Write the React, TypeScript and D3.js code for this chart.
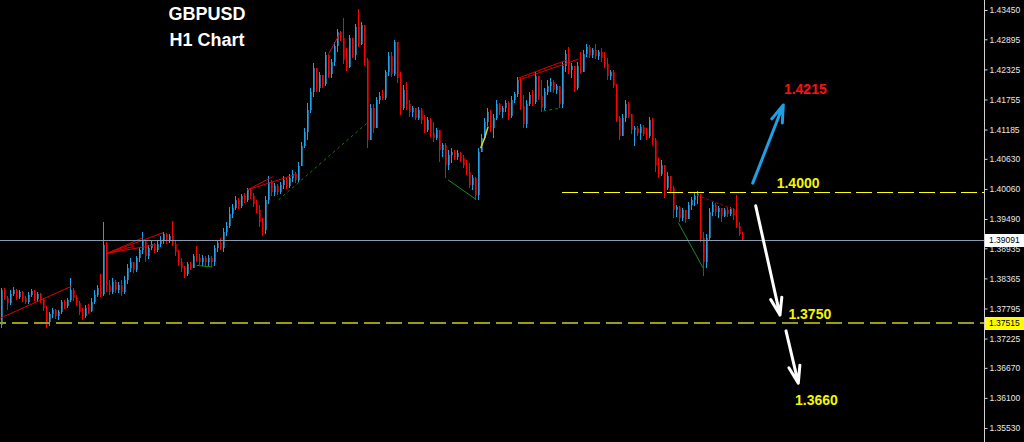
import { useEffect, useRef } from 'react';
import * as d3 from 'd3';

// GBPUSD H1 candles (open of each bar = previous close)
const firstOpen = 1.3748;
const closes = [
  1.3814, 1.3799, 1.379, 1.3807, 1.3814, 1.3801, 1.3811, 1.3799, 1.3792, 1.3805,
  1.3813, 1.3797, 1.3807, 1.3796, 1.378, 1.3754, 1.3769, 1.3777, 1.3765, 1.3773,
  1.3792, 1.3784, 1.3796, 1.3814, 1.3799, 1.379, 1.3773, 1.3765, 1.378, 1.3775,
  1.3792, 1.3805, 1.3818, 1.3807, 1.39, 1.3824, 1.3811, 1.383, 1.3814, 1.3824,
  1.3811, 1.3833, 1.3856, 1.3867, 1.3852, 1.3875, 1.389, 1.3909, 1.3879, 1.3894,
  1.3902, 1.389, 1.3902, 1.3909, 1.3921, 1.3909, 1.3917, 1.3902, 1.3886, 1.3867,
  1.3856, 1.3845, 1.3864, 1.3856, 1.3879, 1.3875, 1.3867, 1.3875, 1.3867, 1.3875,
  1.3867, 1.3894, 1.3903, 1.3894, 1.3924, 1.3936, 1.3958, 1.397, 1.3985, 1.3974,
  1.3993, 1.3985, 1.4004, 1.3993, 1.3977, 1.3966, 1.3943, 1.3928, 1.3985, 1.4019,
  1.4, 1.4011, 1.4, 1.4013, 1.4023, 1.4011, 1.4027, 1.4034, 1.4023, 1.4049,
  1.4087, 1.4114, 1.4156, 1.419, 1.4235, 1.4197, 1.4222, 1.4205, 1.426, 1.4224,
  1.4247, 1.4277, 1.4303, 1.4292, 1.425, 1.4237, 1.4292, 1.426, 1.4313, 1.4281,
  1.4317, 1.425, 1.4099, 1.4159, 1.4121, 1.4175, 1.4182, 1.4178, 1.4228, 1.4258,
  1.4224, 1.4284, 1.4216, 1.4159, 1.4193, 1.4167, 1.4152, 1.4159, 1.414, 1.4156,
  1.4137, 1.4118, 1.4137, 1.4112, 1.4102, 1.4118, 1.408, 1.4089, 1.4051, 1.407,
  1.4076, 1.4067, 1.4074, 1.4065, 1.4051, 1.4038, 1.4013, 1.4027, 1.3994, 1.4076,
  1.4102, 1.4133, 1.4152, 1.4121, 1.414, 1.4167, 1.4152, 1.4159, 1.4169, 1.4144,
  1.4175, 1.4186, 1.4212, 1.4163, 1.4129, 1.4167, 1.4184, 1.4171, 1.422, 1.4182,
  1.4159, 1.419, 1.4201, 1.4209, 1.4193, 1.4201, 1.4167, 1.4239, 1.4262, 1.4231,
  1.4239, 1.4197, 1.4239, 1.4228, 1.4262, 1.4275, 1.426, 1.4269, 1.4258, 1.4266,
  1.4254, 1.4243, 1.422, 1.4228, 1.4203, 1.414, 1.4106, 1.414, 1.4167, 1.4148,
  1.4118, 1.4121, 1.4112, 1.4123, 1.411, 1.4106, 1.4137, 1.4099, 1.4051, 1.4034,
  1.4051, 1.4008, 1.4031, 1.4008, 1.3966, 1.3972, 1.3951, 1.3966, 1.3949, 1.3975,
  1.3985, 1.3993, 1.3996, 1.3913, 1.3867, 1.3913, 1.3962, 1.3975, 1.3962, 1.397,
  1.3955, 1.3966, 1.3958, 1.3968, 1.3956, 1.3936, 1.3921, 1.3909,
];
const highs = [
  1.3818, 1.3818, 1.3803, 1.3814, 1.382, 1.3816, 1.3814, 1.3813, 1.3803, 1.3811,
  1.3816, 1.3814, 1.3811, 1.3809, 1.3799, 1.3784, 1.3773, 1.378, 1.3778, 1.3777,
  1.3796, 1.3796, 1.3799, 1.3837, 1.3818, 1.3805, 1.3794, 1.378, 1.3786, 1.3788,
  1.3799, 1.3814, 1.3824, 1.3845, 1.3943, 1.3905, 1.3833, 1.3837, 1.3833, 1.383,
  1.3833, 1.3841, 1.3864, 1.3875, 1.3867, 1.3879, 1.3896, 1.3924, 1.3909, 1.39,
  1.3909, 1.3903, 1.3907, 1.3917, 1.3924, 1.3922, 1.3921, 1.3945, 1.3909, 1.389,
  1.3875, 1.386, 1.3867, 1.3867, 1.3883, 1.3898, 1.3883, 1.3881, 1.3879, 1.3881,
  1.3879, 1.39, 1.3909, 1.3913, 1.3932, 1.3943, 1.3972, 1.3977, 1.3993, 1.3989,
  1.3996, 1.3998, 1.4008, 1.4006, 1.3998, 1.3985, 1.3975, 1.3951, 1.3993, 1.4031,
  1.4023, 1.4017, 1.4015, 1.4019, 1.4031, 1.4027, 1.4034, 1.4042, 1.4038, 1.4057,
  1.4095, 1.4121, 1.4169, 1.4197, 1.4245, 1.4231, 1.4228, 1.422, 1.4266, 1.426,
  1.4252, 1.4284, 1.4309, 1.4305, 1.433, 1.4273, 1.4298, 1.4288, 1.4319, 1.4347,
  1.4322, 1.4303, 1.4254, 1.4167, 1.4167, 1.418, 1.419, 1.4193, 1.4231, 1.4266,
  1.4266, 1.4288, 1.4258, 1.4228, 1.4203, 1.4209, 1.4175, 1.4163, 1.4159, 1.4161,
  1.4159, 1.4146, 1.4142, 1.414, 1.4133, 1.4121, 1.4114, 1.4093, 1.4093, 1.408,
  1.4084, 1.408, 1.408, 1.4076, 1.407, 1.4061, 1.4055, 1.4032, 1.4029, 1.4084,
  1.411, 1.414, 1.4159, 1.4156, 1.4148, 1.4175, 1.4169, 1.4163, 1.4175, 1.4173,
  1.4182, 1.419, 1.4218, 1.4216, 1.4184, 1.4175, 1.419, 1.4193, 1.4228, 1.4212,
  1.4212, 1.4197, 1.4212, 1.4216, 1.4212, 1.4205, 1.4201, 1.4247, 1.4269, 1.4275,
  1.4245, 1.4235, 1.4247, 1.4266, 1.4269, 1.4281, 1.4279, 1.4273, 1.4281, 1.4269,
  1.4273, 1.4266, 1.4254, 1.4231, 1.4231, 1.4205, 1.4144, 1.4148, 1.4175, 1.4171,
  1.4148, 1.4125, 1.4125, 1.4129, 1.4127, 1.4121, 1.4142, 1.414, 1.4102, 1.4065,
  1.4061, 1.4051, 1.4038, 1.4031, 1.4011, 1.3975, 1.3974, 1.397, 1.3966, 1.3981,
  1.3991, 1.3998, 1.4002, 1.3994, 1.3924, 1.3921, 1.397, 1.3981, 1.3979, 1.3974,
  1.397, 1.397, 1.3972, 1.3972, 1.397, 1.3994, 1.3943, 1.3924,
];
const lows = [
  1.3742, 1.3796, 1.3777, 1.3786, 1.3803, 1.3796, 1.3797, 1.3792, 1.3788, 1.3788,
  1.3801, 1.3794, 1.3792, 1.379, 1.3775, 1.3742, 1.3746, 1.3761, 1.376, 1.3758,
  1.3769, 1.3778, 1.378, 1.3792, 1.3794, 1.3784, 1.3767, 1.3758, 1.3761, 1.3769,
  1.3773, 1.3788, 1.3801, 1.3801, 1.3803, 1.3811, 1.3805, 1.3807, 1.3809, 1.3809,
  1.3803, 1.3807, 1.3826, 1.3849, 1.3847, 1.3849, 1.3867, 1.3883, 1.3867, 1.3873,
  1.389, 1.3885, 1.3886, 1.3896, 1.3902, 1.3902, 1.3903, 1.3898, 1.3879, 1.386,
  1.3849, 1.3837, 1.3841, 1.3852, 1.3856, 1.3867, 1.3862, 1.386, 1.386, 1.386,
  1.3858, 1.386, 1.3886, 1.389, 1.3886, 1.3917, 1.3932, 1.3951, 1.3966, 1.3968,
  1.397, 1.3979, 1.3981, 1.3987, 1.3972, 1.396, 1.3934, 1.3917, 1.3921, 1.3977,
  1.3993, 1.3993, 1.3994, 1.3996, 1.4006, 1.4006, 1.4008, 1.4019, 1.4017, 1.4019,
  1.4049, 1.4084, 1.4099, 1.415, 1.418, 1.419, 1.419, 1.4197, 1.4201, 1.4216,
  1.4216, 1.4239, 1.4266, 1.4286, 1.4243, 1.423, 1.4235, 1.4254, 1.425, 1.4275,
  1.4279, 1.4239, 1.4084, 1.4118, 1.4112, 1.4121, 1.4167, 1.4175, 1.4175, 1.422,
  1.4218, 1.422, 1.4207, 1.4146, 1.4156, 1.4156, 1.4142, 1.4142, 1.4137, 1.4137,
  1.4129, 1.4112, 1.4114, 1.4104, 1.4095, 1.4099, 1.4057, 1.4067, 1.4027, 1.4042,
  1.4055, 1.4061, 1.4061, 1.4057, 1.4046, 1.4032, 1.4008, 1.4004, 1.3985, 1.3985,
  1.4076, 1.4099, 1.4125, 1.4114, 1.4102, 1.4137, 1.4146, 1.414, 1.4152, 1.4137,
  1.414, 1.4169, 1.418, 1.4156, 1.4121, 1.4121, 1.4163, 1.4163, 1.4167, 1.4175,
  1.4152, 1.4156, 1.4184, 1.419, 1.4188, 1.4186, 1.4159, 1.4159, 1.4228, 1.4224,
  1.4216, 1.419, 1.4193, 1.4224, 1.4228, 1.4256, 1.4254, 1.4254, 1.4252, 1.425,
  1.4247, 1.4235, 1.4212, 1.4212, 1.4197, 1.4133, 1.4099, 1.4108, 1.4133, 1.414,
  1.411, 1.4087, 1.4106, 1.4099, 1.4106, 1.4099, 1.4102, 1.4089, 1.4038, 1.4027,
  1.4031, 1.3989, 1.4004, 1.4, 1.3951, 1.3953, 1.3943, 1.3945, 1.3941, 1.3949,
  1.3966, 1.3974, 1.3977, 1.3905, 1.3841, 1.3856, 1.3909, 1.3955, 1.3955, 1.3951,
  1.3943, 1.3953, 1.3953, 1.3955, 1.3947, 1.3932, 1.3917, 1.3907,
];

const axisTicks = [
  1.4345, 1.42895, 1.42325, 1.41755, 1.41185, 1.4063, 1.4006, 1.3949,
  1.38935, 1.38365, 1.37795, 1.37225, 1.3667, 1.361, 1.3553,
];
const currentPrice = 1.39091;
const supportPrice = 1.37515;
const resistancePrice = 1.4;
const resistanceStart = 186.8; // bar index where the 1.4000 line starts

// drawn studies: [bar index, price]
const redPatternLines = [
  [[-0.5, 1.3761], [23.5, 1.3822]],
  [[35.3, 1.3884], [47.3, 1.3914]],
  [[35.3, 1.3884], [53.9, 1.3923]],
  [[35.3, 1.3884], [51.2, 1.39]],
  [[35.3, 1.3884], [44.0, 1.3897]],
  [[81.9, 1.4004], [90.4, 1.4029]],
  [[81.9, 1.4004], [98.4, 1.4034]],
  [[108.9, 1.426], [112.8, 1.4301]],
  [[172.3, 1.4216], [188.4, 1.425]],
  [[172.3, 1.4212], [192.3, 1.4252]],
];
const redDashedLine = [[231.9, 1.3994], [242.3, 1.3971], [244.5, 1.3966]];
const greenLines = [
  [[225.6, 1.3942], [233.9, 1.3856]],
  [[148.9, 1.4023], [158.2, 1.3986]],
  [[65.1, 1.3861], [70.3, 1.3858]],
];
const greenDashedLines = [
  [[92.3, 1.3985], [121.7, 1.413]],
  [[180.6, 1.4154], [186.7, 1.4159]],
];
const yellowPatternLine = [[159.7, 1.4083], [161.2, 1.4105], [162.2, 1.4124]];

const arrows = [
  { from: [250.4, 1.4017], to: [260.6, 1.4165], color: '#1e9fe6' },
  { from: [251.4, 1.3974], to: [259.5, 1.3767], color: '#ffffff' },
  { from: [261.5, 1.3737], to: [265.6, 1.3638], color: '#ffffff' },
];
const targetLabels = [
  { text: '1.4215', at: [260.8, 1.4185], color: '#ff1010' },
  { text: '1.4000', at: [258.4, 1.4007], color: '#f5f500' },
  { text: '1.3750', at: [262.3, 1.3759], color: '#f5f500' },
  { text: '1.3660', at: [264.5, 1.3597], color: '#f5f500' },
];

const WIDTH = 1024;
const HEIGHT = 442;
const plotRight = 984;
const bullWick = '#1ea2ea';
const bullBody = '#1d6c96';
const bearWick = '#ff0000';
const bearBody = '#a00000';
const font = "'Liberation Sans', Arial, sans-serif";

const App = () => {
  const svgRef = useRef<SVGSVGElement>(null!);

  useEffect(() => {
    document.body.style.margin = '0';
    document.body.style.background = '#000';
    const svg = d3.select(svgRef.current);
    svg.selectAll('*').remove();

    const n = closes.length;
    const x = d3.scaleLinear().domain([0, n - 1]).range([1.5, 1.5 + 3 * (n - 1)]);
    const y = d3.scaleLinear().domain([1.3553, 1.4345]).range([428, 10]);

    svg.append('rect').attr('width', WIDTH).attr('height', HEIGHT).attr('fill', '#000');

    const candles = closes.map((c, i) => {
      const o = i === 0 ? firstOpen : closes[i - 1];
      return { i, o, c, h: Math.max(highs[i], o, c), l: Math.min(lows[i], o, c), up: c >= o };
    });

    const cg = svg.append('g').attr('shape-rendering', 'crispEdges');
    cg.selectAll('rect.body')
      .data(candles)
      .join('rect')
      .attr('class', 'body')
      .attr('x', d => Math.floor(x(d.i)))
      .attr('width', 2)
      .attr('y', d => y(Math.max(d.o, d.c)))
      .attr('height', d => Math.max(1, y(Math.min(d.o, d.c)) - y(Math.max(d.o, d.c))))
      .attr('fill', d => (d.up ? bullBody : bearBody));
    cg.selectAll('rect.wick')
      .data(candles)
      .join('rect')
      .attr('class', 'wick')
      .attr('x', d => Math.floor(x(d.i)))
      .attr('width', 1)
      .attr('y', d => y(d.h))
      .attr('height', d => Math.max(1, y(d.l) - y(d.h)))
      .attr('fill', d => (d.up ? bullWick : bearWick));

    const line = d3
      .line<number[]>()
      .x(d => x(d[0]))
      .y(d => y(d[1]));

    const studies = svg.append('g').attr('fill', 'none');
    redPatternLines.forEach(seg =>
      studies.append('path').attr('d', line(seg)).attr('stroke', '#e00000').attr('stroke-width', 1)
    );
    studies
      .append('path')
      .attr('d', line(redDashedLine))
      .attr('stroke', '#b00000')
      .attr('stroke-dasharray', '3,2');
    greenLines.forEach(seg =>
      studies.append('path').attr('d', line(seg)).attr('stroke', '#1e8a1e').attr('stroke-width', 1)
    );
    greenDashedLines.forEach(seg =>
      studies
        .append('path')
        .attr('d', line(seg))
        .attr('stroke', '#137513')
        .attr('stroke-dasharray', '3,3')
    );
    studies
      .append('path')
      .attr('d', line(yellowPatternLine))
      .attr('stroke', '#e8d020')
      .attr('stroke-width', 1.5);

    // horizontal levels
    const levels = svg.append('g').attr('shape-rendering', 'crispEdges');
    levels
      .append('line')
      .attr('x1', 0)
      .attr('x2', plotRight)
      .attr('y1', Math.floor(y(currentPrice)) + 0.5)
      .attr('y2', Math.floor(y(currentPrice)) + 0.5)
      .attr('stroke', '#8a9bb0');
    levels
      .append('line')
      .attr('x1', 0)
      .attr('x2', plotRight)
      .attr('y1', y(supportPrice))
      .attr('y2', y(supportPrice))
      .attr('stroke', '#9c9c12')
      .attr('stroke-width', 2)
      .attr('stroke-dasharray', '16,6')
      .attr('stroke-dashoffset', 10);
    levels
      .append('line')
      .attr('x1', x(resistanceStart))
      .attr('x2', plotRight)
      .attr('y1', Math.floor(y(resistancePrice)) + 0.5)
      .attr('y2', Math.floor(y(resistancePrice)) + 0.5)
      .attr('stroke', '#ffff00')
      .attr('stroke-width', 1.2)
      .attr('stroke-dasharray', '16,5');

    // arrows
    arrows.forEach(a => {
      const x1 = x(a.from[0]);
      const y1 = y(a.from[1]);
      const x2 = x(a.to[0]);
      const y2 = y(a.to[1]);
      const ang = Math.atan2(y1 - y2, x1 - x2);
      const len = 18;
      const spread = 0.32;
      const p = d3.path();
      p.moveTo(x1, y1);
      p.lineTo(x2, y2);
      p.moveTo(x2 + len * Math.cos(ang - spread), y2 + len * Math.sin(ang - spread));
      p.lineTo(x2, y2);
      p.lineTo(x2 + len * Math.cos(ang + spread), y2 + len * Math.sin(ang + spread));
      svg
        .append('path')
        .attr('d', p.toString())
        .attr('fill', 'none')
        .attr('stroke', a.color)
        .attr('stroke-width', 3)
        .attr('stroke-linecap', 'round')
        .attr('stroke-linejoin', 'round');
    });

    targetLabels.forEach(t => {
      svg
        .append('text')
        .attr('x', x(t.at[0]))
        .attr('y', y(t.at[1]))
        .attr('fill', t.color)
        .attr('font-family', font)
        .attr('font-weight', 'bold')
        .attr('font-size', 14)
        .text(t.text);
    });

    // title
    svg
      .append('text')
      .attr('x', 207)
      .attr('y', 20)
      .attr('text-anchor', 'middle')
      .attr('fill', '#fff')
      .attr('font-family', font)
      .attr('font-weight', 'bold')
      .attr('font-size', 18)
      .text('GBPUSD');
    svg
      .append('text')
      .attr('x', 207)
      .attr('y', 46)
      .attr('text-anchor', 'middle')
      .attr('fill', '#fff')
      .attr('font-family', font)
      .attr('font-weight', 'bold')
      .attr('font-size', 18)
      .text('H1 Chart');

    // price axis
    svg
      .append('line')
      .attr('x1', plotRight + 0.5)
      .attr('x2', plotRight + 0.5)
      .attr('y1', 0)
      .attr('y2', HEIGHT)
      .attr('stroke', '#d0d0d0');
    const yAxis = d3
      .axisRight(y)
      .tickValues(axisTicks)
      .tickSize(3)
      .tickSizeOuter(0)
      .tickPadding(2)
      .tickFormat(d => d3.format('.5f')(d as number));
    const ag = svg.append('g').attr('transform', `translate(${plotRight + 0.5},0)`).call(yAxis);
    ag.select('.domain').remove();
    ag.selectAll('line').attr('stroke', '#d0d0d0');
    ag.selectAll('text').attr('fill', '#e8e8e8').attr('font-size', 8.5).attr('font-family', font);

    const boxes = [
      { price: currentPrice, fill: '#ffffff' },
      { price: supportPrice, fill: '#ffff00' },
    ];
    boxes.forEach(b => {
      svg
        .append('rect')
        .attr('x', plotRight + 1)
        .attr('y', Math.round(y(b.price)) - 6)
        .attr('width', WIDTH - plotRight - 1)
        .attr('height', 13)
        .attr('fill', b.fill);
      svg
        .append('text')
        .attr('x', plotRight + 5)
        .attr('y', y(b.price))
        .attr('dy', '0.36em')
        .attr('fill', '#000')
        .attr('font-family', font)
        .attr('font-size', 8.5)
        .text(d3.format('.5f')(b.price));
    });

    return () => {
      svg.selectAll('*').remove();
    };
  }, []);

  return <svg ref={svgRef} width={WIDTH} height={HEIGHT} style={{ display: 'block', background: '#000' }} />;
};

export default App;
